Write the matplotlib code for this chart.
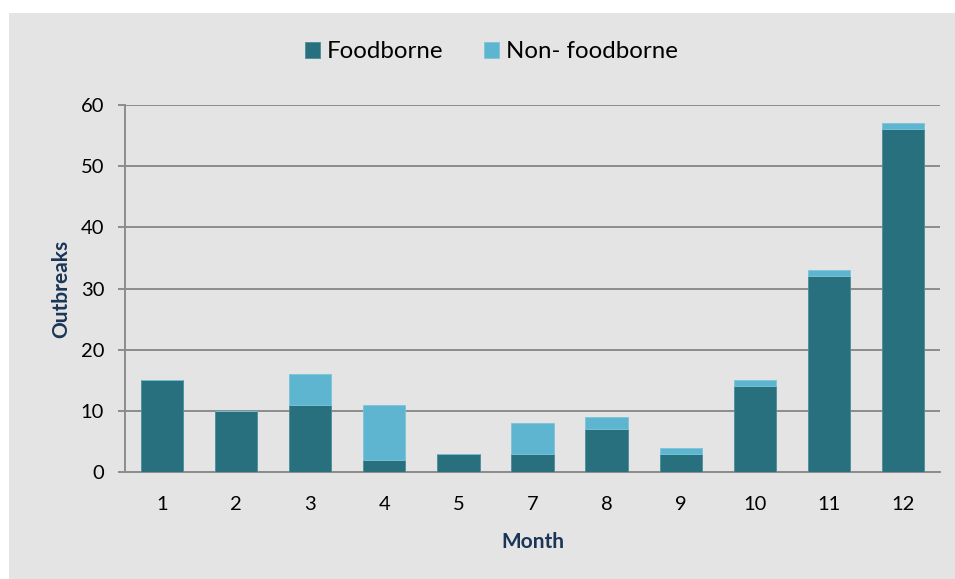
import matplotlib
matplotlib.use("Agg")
import matplotlib.pyplot as plt
from matplotlib.patches import Rectangle

months = ["1", "2", "3", "4", "5", "7", "8", "9", "10", "11", "12"]
foodborne = [15, 10, 11, 2, 3, 3, 7, 3, 14, 32, 56]
non_foodborne = [0, 0, 5, 9, 0, 5, 2, 1, 1, 1, 1]
y_ticks = [0, 10, 20, 30, 40, 50, 60]

plt.rcParams['font.family'] = ['Lato', 'DejaVu Sans']

dark = "#29707F"
light = "#5EB5CF"
bg = "#E4E4E4"
grid = "#8C8C8C"
navy = "#1B3556"

fig = plt.figure(figsize=(9.55, 5.79), dpi=100)
fig.patch.set_facecolor("white")
fig.patches.append(Rectangle((9/955, 0), 1 - 9/955, 1 - 13/579, transform=fig.transFigure,
                             facecolor=bg, edgecolor="none", zorder=-10))

ax = fig.add_axes([125/955, 1 - 472/579, (940 - 125)/955, (472 - 105)/579])
ax.set_zorder(1)
ax.set_facecolor(bg)
x = list(range(len(months)))
w = 0.57
ax.bar(x, foodborne, width=w, color=dark, label="Foodborne", zorder=3,
       edgecolor="#4a8d9c", linewidth=0.6)
ax.bar(x, non_foodborne, width=w, bottom=foodborne, color=light, label="Non- foodborne",
       zorder=3, edgecolor="#7cc4d8", linewidth=0.6)

ax.set_xlim(-0.5, len(months) - 0.5)
ax.set_ylim(0, 60)
ax.set_yticks(y_ticks)
ax.set_xticks(x)
ax.set_xticklabels(months)
ax.yaxis.grid(True, color=grid, linewidth=1.4, zorder=1)
ax.set_axisbelow(True)
for s in ["top", "right"]:
    ax.spines[s].set_visible(False)
ax.spines["left"].set_color(grid)
ax.spines["left"].set_linewidth(1.4)
ax.spines["bottom"].set_color(grid)
ax.spines["bottom"].set_linewidth(1.4)
ax.tick_params(axis="y", length=5, width=1.4, color=grid, labelsize=14.5, pad=10)
ax.tick_params(axis="x", length=0, labelsize=14.5, pad=17)

ax.set_xlabel("Month", fontsize=15, fontweight="bold", color=navy, labelpad=14)
ax.set_ylabel("Outbreaks", fontsize=15, fontweight="bold", color=navy, labelpad=7)

handles, labels = ax.get_legend_handles_labels()
leg = fig.legend(handles, labels, loc="center", bbox_to_anchor=(491.5/955, 1 - 52/579),
                 ncol=2, frameon=False, fontsize=17.3, handlelength=0.62, handleheight=0.62,
                 columnspacing=1.67, handletextpad=0.3)

fig.savefig("out.png", dpi=100, facecolor=fig.get_facecolor())
